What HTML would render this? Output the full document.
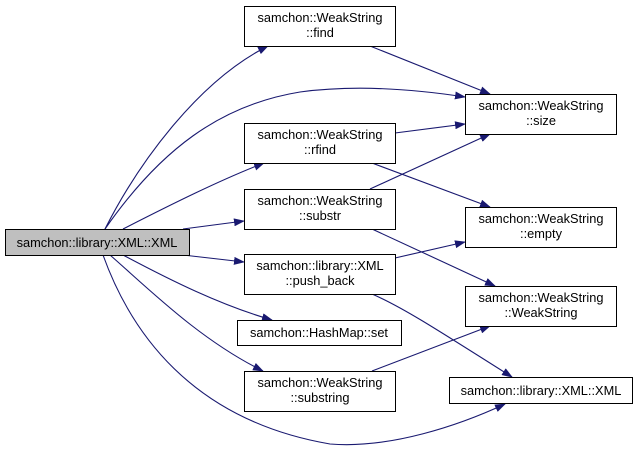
<!DOCTYPE html>
<html><head><meta charset="utf-8"><style>
html,body{margin:0;padding:0;background:#fff;width:639px;height:450px;overflow:hidden}
svg{display:block}
text{font-family:"Liberation Sans",Arial,sans-serif;font-size:12.8px;fill:#000}
</style></head><body>
<svg width="639" height="450" viewBox="0 0 639 450" xmlns="http://www.w3.org/2000/svg">
<defs>
<marker id="a" markerWidth="11" markerHeight="8" refX="10" refY="4" orient="auto" markerUnits="userSpaceOnUse">
<polygon points="0,0 11,4 0,8" fill="#191970"/>
</marker>
</defs>
<g fill="none" stroke="#191970" stroke-width="1.1" marker-end="url(#a)">
<path d="M105,229 C140,160 200,80 268,46"/>
<path d="M105,229 C160,150 220,105 300,92 C360,84 420,90 465,97"/>
<path d="M123,229 C170,205 220,180 264,163"/>
<path d="M183,229 L244,221"/>
<path d="M183,255 L244,262"/>
<path d="M123,255 C170,280 220,305 272,320"/>
<path d="M110,255 C150,290 200,340 263,371"/>
<path d="M103,255 C130,330 190,420 330,444 C390,449 460,425 505,404"/>
<path d="M370,46 L490,94"/>
<path d="M395,133 L465,124"/>
<path d="M372,163 L490,207"/>
<path d="M370,189 L490,134"/>
<path d="M372,229 L495,286"/>
<path d="M395,258 L465,242"/>
<path d="M372,294 C400,306 430,325 512,377"/>
<path d="M372,371 L490,326"/>
</g>
<g stroke="#000" stroke-width="1">
<rect x="5.5" y="229.5" width="184" height="26" fill="#bfbfbf"/>
<rect x="244.5" y="6.5" width="151" height="40" fill="#fff"/>
<rect x="244.5" y="123.5" width="151" height="40" fill="#fff"/>
<rect x="244.5" y="189.5" width="151" height="40" fill="#fff"/>
<rect x="244.5" y="254.5" width="151" height="40" fill="#fff"/>
<rect x="237.5" y="320.5" width="164" height="25" fill="#fff"/>
<rect x="244.5" y="371.5" width="151" height="40" fill="#fff"/>
<rect x="465.5" y="94.5" width="151" height="40" fill="#fff"/>
<rect x="465.5" y="207.5" width="151" height="40" fill="#fff"/>
<rect x="465.5" y="286.5" width="151" height="40" fill="#fff"/>
<rect x="449.5" y="377.5" width="183" height="26" fill="#fff"/>
</g>
<g text-anchor="middle">
<text x="97" y="247">samchon::library::XML::XML</text>
<text x="320" y="22">samchon::WeakString</text><text x="320" y="37">::find</text>
<text x="320" y="139">samchon::WeakString</text><text x="320" y="154">::rfind</text>
<text x="320" y="205">samchon::WeakString</text><text x="320" y="220">::substr</text>
<text x="320" y="270">samchon::library::XML</text><text x="320" y="285">::push_back</text>
<text x="319" y="337">samchon::HashMap::set</text>
<text x="320" y="387">samchon::WeakString</text><text x="320" y="402">::substring</text>
<text x="541" y="110">samchon::WeakString</text><text x="541" y="125">::size</text>
<text x="541" y="223">samchon::WeakString</text><text x="541" y="238">::empty</text>
<text x="541" y="302">samchon::WeakString</text><text x="541" y="317">::WeakString</text>
<text x="541" y="395">samchon::library::XML::XML</text>
</g>
</svg>
</body></html>
